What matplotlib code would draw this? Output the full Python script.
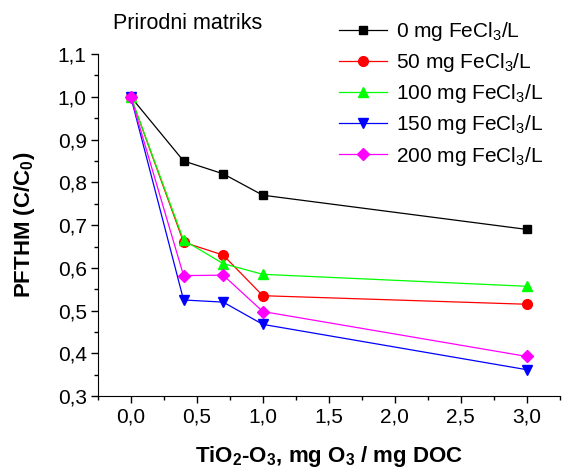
import matplotlib
matplotlib.use("Agg")
import matplotlib.pyplot as plt
from matplotlib.ticker import MultipleLocator, FuncFormatter

# fonts: Arial-like look
plt.rcParams['font.family'] = ['Liberation Sans', 'DejaVu Sans']
plt.rcParams['mathtext.fontset'] = 'custom'
plt.rcParams['mathtext.rm'] = 'Liberation Sans'
plt.rcParams['mathtext.it'] = 'Liberation Sans'
plt.rcParams['mathtext.bf'] = 'Liberation Sans:bold'

# data
dose = [0.0, 0.4, 0.7, 1.0, 3.0]
fe_0 = [1.0, 0.85, 0.82, 0.77, 0.69]
fe_50 = [1.0, 0.66, 0.63, 0.535, 0.515]
fe_100 = [1.0, 0.665, 0.61, 0.585, 0.557]
fe_150 = [1.0, 0.525, 0.52, 0.468, 0.362]
fe_200 = [1.0, 0.582, 0.583, 0.498, 0.393]
labels = ["0 mg FeCl$_3$/L", "50 mg FeCl$_3$/L", "100 mg FeCl$_3$/L",
          "150 mg FeCl$_3$/L", "200 mg FeCl$_3$/L"]

fig = plt.figure(figsize=(5.62, 4.70), dpi=100)
ax = fig.add_axes([0.174, 0.157, 0.822, 0.728])

series = [fe_0, fe_50, fe_100, fe_150, fe_200]
colors = ["black", "red", "#00ff00", "blue", "magenta"]
markers = ["s", "o", "^", "v", "D"]
sizes = [5.5, 7, 7.5, 7.5, 6.5]
for vals, c, m, s, lab in zip(series, colors, markers, sizes, labels):
    ax.plot(dose, vals, color=c, marker=m, markersize=s, lw=0.9, label=lab)

ax.set_xlim(-0.25, 3.25)
ax.set_ylim(0.3, 1.1)
ax.xaxis.set_major_locator(MultipleLocator(0.5))
ax.xaxis.set_minor_locator(MultipleLocator(0.25))
ax.yaxis.set_major_locator(MultipleLocator(0.1))
ax.yaxis.set_minor_locator(MultipleLocator(0.05))
comma = FuncFormatter(lambda v, p: ("%.1f" % v).replace(".", ","))
ax.xaxis.set_major_formatter(comma)
ax.yaxis.set_major_formatter(comma)
ax.tick_params(which="major", direction="out", length=5, width=1, labelsize=15, pad=3)
ax.tick_params(which="minor", direction="out", length=3, width=1)
ax.spines["top"].set_visible(False)
ax.spines["right"].set_visible(False)

ax.set_xlabel(r"TiO$_\mathbf{2}$-O$_\mathbf{3}$, mg O$_\mathbf{3}$ / mg DOC",
              fontsize=16, fontweight="bold", labelpad=13)
ax.set_ylabel(r"PFTHM (C/C$_\mathbf{0}$)", fontsize=16, fontweight="bold", labelpad=15)

fig.text(0.201, 0.951, "Prirodni matriks", fontsize=15.5, va="center")
fig.legend(loc="upper left", bbox_to_anchor=(0.589, 0.975), frameon=False,
           fontsize=15, handlelength=2.3, handletextpad=0.4,
           labelspacing=0.39, borderaxespad=0)

fig.savefig("out.png", dpi=100)
